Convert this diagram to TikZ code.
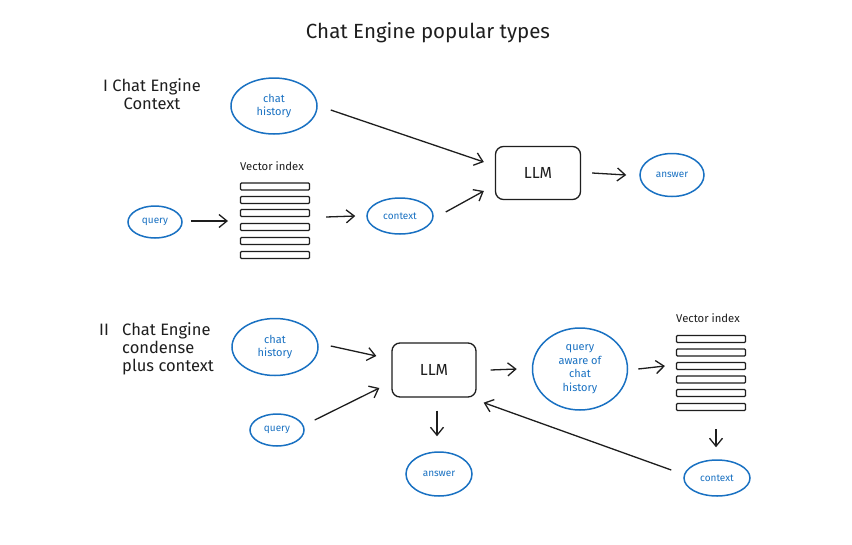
\documentclass[tikz,border=0pt]{standalone}
\usepackage{fontspec}
\setmainfont{Fira Sans}
\usetikzlibrary{arrows.meta,shapes.geometric}
\definecolor{exblue}{HTML}{1971C2}
\definecolor{exink}{HTML}{1E1E1E}
\tikzset{
  bubble/.style={draw=exblue, line width=1.5pt, shape=ellipse, text=exblue, align=center, inner sep=0pt, font=\fontsize{10}{12}\selectfont},
  bigbubble/.style={bubble, font=\fontsize{11}{13.5}\selectfont},
  llmbox/.style={draw=exink, line width=1.3pt, rounded corners=8pt, minimum width=85pt, minimum height=53pt, font=\fontsize{16}{18}\selectfont, text=exink},
  bar/.style={draw=exink, line width=1.1pt, rounded corners=1pt, minimum width=69pt, minimum height=7pt, inner sep=0pt},
  flow/.style={draw=exink, line width=1.3pt, -{Straight Barb[length=8pt,width=13pt,line width=1.3pt]}},
  lbl/.style={text=exink, align=center, inner sep=0pt},
}
\begin{document}
\begin{tikzpicture}[x=1pt,y=-1pt]
\useasboundingbox[fill=white] (0,0) rectangle (852,544);

\node[lbl, font=\fontsize{20.5}{24}\selectfont] (title) at (428,33) {Chat Engine popular types};

% ---------- I ----------
\node[lbl, font=\fontsize{16.5}{18}\selectfont] (lab1) at (152,94) {I Chat Engine\\Context};

\node[bigbubble, minimum width=86pt, minimum height=56pt] (ch1) at (274,106) {chat\\history};
\node[lbl, font=\fontsize{11.3}{13}\selectfont] (vi1) at (272,166) {Vector index};
\foreach \i/\y in {1/186.5,2/200,3/213,4/227,5/241,6/255}{
  \node[bar] (b1\i) at (275,\y) {};
}
\node[bubble, minimum width=54pt, minimum height=32pt] (q1) at (155,222) {query};
\node[bubble, minimum width=66pt, minimum height=36pt] (ctx1) at (400,216) {context};
\node[llmbox] (llm1) at (538,173) {LLM};
\node[bubble, minimum width=64pt, minimum height=43pt] (ans1) at (672,175) {answer};

\coordinate (a1e) at (228,221);
\draw[flow] ([shift={(8,-1)}]q1.east) -- (a1e);
\draw[flow] ([shift={(16,4)}]b13.east) -- ([xshift=-11pt]ctx1.west);
\draw[flow] ([shift={(12,-4)}]ctx1.east) -- ([shift={(-11,18)}]llm1.west);
\draw[flow] ([shift={(13,4)}]ch1.east) -- ([shift={(-11,-11)}]llm1.west);
\draw[flow] ([xshift=11pt]llm1.east) -- ([xshift=-13pt]ans1.west);

% ---------- II ----------
\node[lbl, font=\fontsize{16.5}{18}\selectfont, anchor=base west] (lab2b) at (122,335) {Chat Engine};
\node[lbl, font=\fontsize{16.5}{18}\selectfont, anchor=base west] (lab2a) at (99,335) {II};
\node[lbl, font=\fontsize{16.5}{18}\selectfont, anchor=base west] (lab2c) at (122,353) {condense};
\node[lbl, font=\fontsize{16.5}{18}\selectfont, anchor=base west] (lab2d) at (122,371) {plus context};

\node[bigbubble, minimum width=86pt, minimum height=57pt] (ch2) at (275,347) {chat\\history};
\node[bubble, minimum width=54pt, minimum height=32pt] (q2) at (277,430) {query};
\node[llmbox, minimum width=84pt, minimum height=54pt] (llm2) at (434,370) {LLM};
\node[bigbubble, minimum width=95pt, minimum height=82pt] (qa) at (580,369) {query\\aware of\\chat\\history};
\node[lbl, font=\fontsize{11.3}{13}\selectfont] (vi2) at (708,318) {Vector index};
\foreach \i/\y in {1/339,2/352.5,3/366,4/379.5,5/393,6/407}{
  \node[bar] (b2\i) at (711,\y) {};
}
\node[bubble, minimum width=66pt, minimum height=36pt] (ctx2) at (717,478) {context};
\node[bubble, minimum width=66pt, minimum height=44pt] (ans2) at (439,474) {answer};

\draw[flow] ([shift={(12,-1)}]ch2.east) -- ([shift={(-15,-14)}]llm2.west);
\draw[flow] ([shift={(10,-10)}]q2.east) -- ([shift={(-12,18)}]llm2.west);
\draw[flow] ([xshift=14pt]llm2.east) -- ([xshift=-15pt]qa.west);
\draw[flow] ([xshift=10pt]qa.east) -- ([xshift=-11pt]b23.west);
\draw[flow] ([shift={(5,18)}]b26.south) -- ([shift={(-1,-12)}]ctx2.north);
\draw[flow] ([shift={(3,13)}]llm2.south) -- ([shift={(-2,-15)}]ans2.north);
\draw[flow] ([shift={(-12,-8)}]ctx2.west) -- ([shift={(7,5)}]llm2.south east);
\end{tikzpicture}
\end{document}
